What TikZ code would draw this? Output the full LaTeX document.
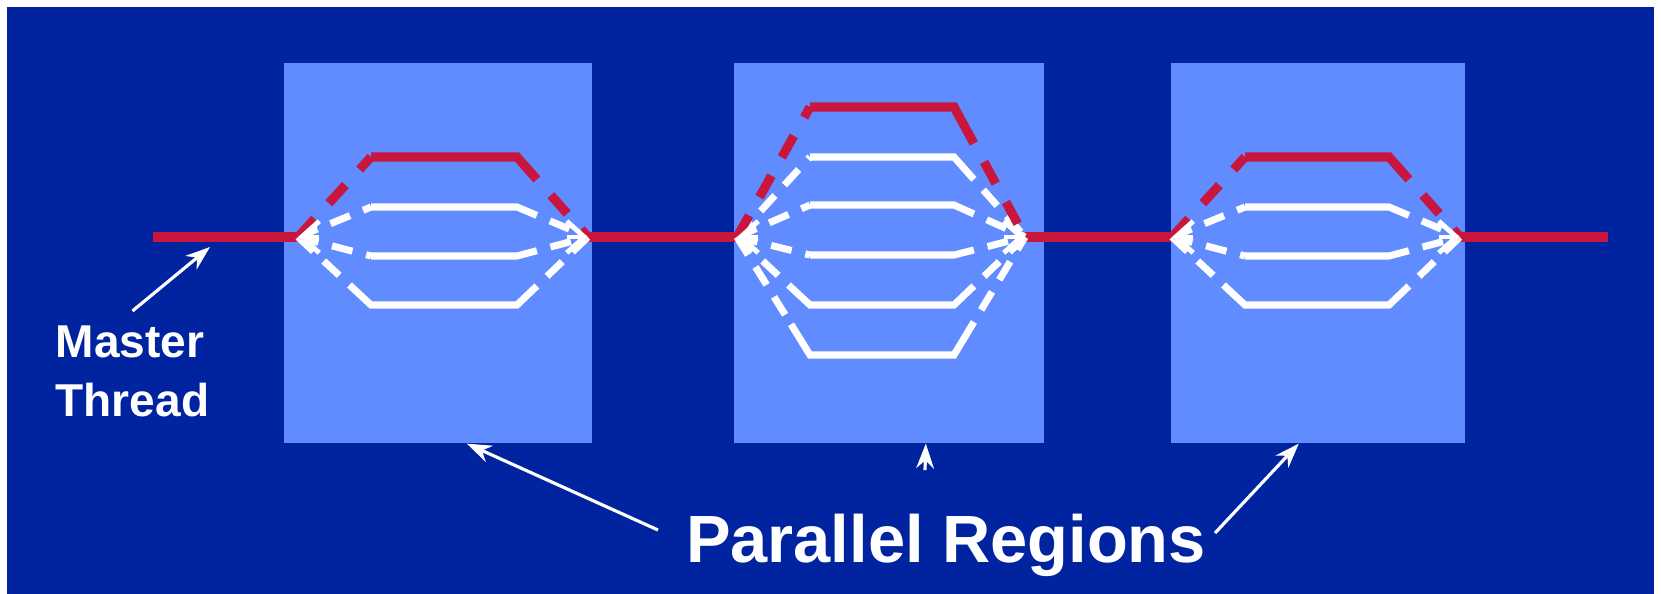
\documentclass[tikz,border=0pt]{standalone}
\usepackage{fontspec}
\setmainfont{Liberation Sans}
\usetikzlibrary{arrows.meta}

\definecolor{slide}{RGB}{0,36,160}
\definecolor{regionblue}{RGB}{96,140,255}
\definecolor{threadred}{RGB}{200,22,62}

\tikzset{
    regbox/.style={fill=regionblue, inner sep=0pt, minimum height=3.8cm, anchor=north west},
    master/.style={draw=threadred, line width=2.6pt},
    redthread/.style={draw=threadred, line width=2.6pt},
    reddash/.style={dash pattern=on 7pt off 6pt},
    redgap/.style={reddash, dash phase=7pt},
    whitethread/.style={draw=white, line width=2pt},
    whitedash/.style={dash pattern=on 6pt off 4pt},
    whitegap/.style={whitedash, dash phase=6pt},
    forktip/.style={draw=white, line width=1.4pt, -{Straight Barb[length=5pt,width=9pt]}},
    pointer/.style={draw=white, line width=0.9pt, -{Stealth[length=7pt,width=5pt]}},
    lbl/.style={text=white, font=\bfseries}
}

% one thread: fork x, join x, offset from the master line, colour prefix
\newcommand{\drawthread}[4]{
    \pgfmathsetmacro\ty{237+(#3)}
    \pgfmathsetmacro\lx{#1+73}
    \pgfmathsetmacro\rx{#2-71}
    \pgfmathsetmacro\lb{(#3)>40 ? 0.26 : 0}
    \pgfmathsetmacro\lbx{\lx-73*\lb}
    \pgfmathsetmacro\lby{\ty-(#3)*\lb}
    \pgfmathsetmacro\rbx{\rx+71*0.28}
    \pgfmathsetmacro\rby{\ty-(#3)*0.28}
    \draw[#4thread, #4dash] (#1,237) -- (\lbx,\lby);
    \draw[#4thread] (\lbx,\lby) -- (\lx,\ty) -- (\rx,\ty) -- (\rbx,\rby);
    \draw[#4thread, #4gap] (\rbx,\rby) -- (#2,237);
}

\begin{document}
\begin{tikzpicture}[x=0.01cm, y=-0.01cm]
    \useasboundingbox (0,0) rectangle (1661,593);
    \fill[white] (0,0) rectangle (1661,593);
    \fill[slide] (7,7) rectangle (1654,600);

    % parallel regions
    \node[regbox, minimum width=3.08cm] (reg1) at (283,62) {};
    \node[regbox, minimum width=3.10cm] (reg2) at (733,62) {};
    \node[regbox, minimum width=2.94cm] (reg3) at (1170,62) {};

    \foreach \b/\f/\j in {1/298/588, 2/737/1025, 3/1172/1460}
    {
        \coordinate (fork\b) at (\f,237);
        \coordinate (join\b) at (\j,237);
    }
    \coordinate (start) at (153,237);
    \coordinate (end) at (1608,237);

    \draw[master] (start) -- (fork1) (join1) -- (fork2) (join2) -- (fork3) (join3) -- (end);

    % team threads
    \foreach \f/\j/\offs/\top in
        {298/588/{-30,19,68}/-80,
        737/1025/{-80,-32,18,68,118}/-130,
        1172/1460/{-30,19,68}/-80}
    {
        \foreach \d in \offs {\drawthread{\f}{\j}{\d}{white}}
        \drawthread{\f}{\j}{\top}{red}
    }

    \foreach \b in {1,2,3}
    {
        \draw[forktip] ([xshift=6pt]fork\b) -- (fork\b);
        \draw[forktip] ([xshift=-6pt]join\b) -- (join\b);
    }

    % labels
    \node[lbl, font=\fontsize{13.1}{16.8}\selectfont\bfseries, align=left,
        anchor=north west, inner sep=0pt] (mastertext) at (55,325) {Master\\Thread};
    \node[lbl, font=\fontsize{19}{22}\selectfont\bfseries, anchor=base]
        (regions) at (946,562) {Parallel Regions};

    \coordinate (mtip) at (210,247);
    \draw[pointer] ([yshift=4pt]mastertext.north) -- (mtip);

    \coordinate (rt1) at (658,530);
    \coordinate (rt2) at (925,470);
    \coordinate (rt3) at (1215,533);
    \draw[pointer] (rt1) -- ([xshift=0.29cm]reg1.south);
    \draw[pointer] (rt2) -- ([xshift=0.37cm]reg2.south);
    \draw[pointer] (rt3) -- ([xshift=-0.19cm]reg3.south);
\end{tikzpicture}
\end{document}
